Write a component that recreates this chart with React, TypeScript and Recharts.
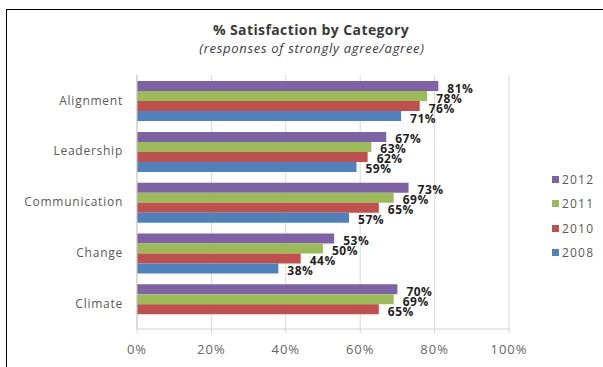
import { Bar, BarChart, CartesianGrid, LabelList, Legend, XAxis, YAxis } from "recharts";

const categories = ["Alignment", "Leadership", "Communication", "Change", "Climate"];
const years = ["2012", "2011", "2010", "2008"];
const values2012 = [81, 67, 73, 53, 70];
const values2011 = [78, 63, 69, 50, 69];
const values2010 = [76, 62, 65, 44, 65];
const values2008: (number | null)[] = [71, 59, 57, 38, null];
const xTicks = [0, 20, 40, 60, 80, 100];

const colors: Record<string, string> = {
  "2012": "#7f62a6",
  "2011": "#9bbb59",
  "2010": "#c0504d",
  "2008": "#4f81bd",
};

const data = categories.map((name, i) => ({
  name,
  "2012": values2012[i],
  "2011": values2011[i],
  "2010": values2010[i],
  "2008": values2008[i],
}));

const font = "'Open Sans', 'DejaVu Sans', sans-serif";

function LegendBox({ payload }: any) {
  const items = [...(payload ?? [])].sort(
    (a: any, b: any) => years.indexOf(String(a.value)) - years.indexOf(String(b.value))
  );
  return (
    <div style={{ fontFamily: font, fontSize: 12, letterSpacing: 1.2, color: "#595959" }}>
      {items.map((p: any) => (
        <div key={p.value} style={{ height: 24.5, display: "flex", alignItems: "center" }}>
          <span style={{ width: 7, height: 7, background: p.color, marginRight: 3, display: "inline-block" }} />
          {p.value}
        </div>
      ))}
    </div>
  );
}

function valueLabel(props: any) {
  const { x, y, width, height, value } = props;
  if (value == null) return null;
  return (
    <text
      x={Number(x) + Number(width) + 9}
      y={Number(y) + Number(height) / 2 + 2}
      dominantBaseline="central"
      fill="#1f1f1f"
      fontSize={12}
      fontWeight={700}
      fontFamily={font}
      letterSpacing={0.5}
    >
      {`${value}%`}
    </text>
  );
}

export default function App() {
  return (
    <div style={{ position: "absolute", left: 0, top: 0, width: 603, height: 367, background: "#fff", overflow: "hidden" }}>
      <div style={{ position: "absolute", left: 6, top: 9, width: 597, height: 1, background: "#000" }} />
      <div style={{ position: "absolute", left: 6, top: 9, width: 1, height: 358, background: "#000" }} />
      <div
        style={{
          position: "absolute",
          left: 0,
          width: 622,
          top: 20,
          textAlign: "center",
          fontFamily: font,
          fontWeight: 700,
          fontSize: 14,
          letterSpacing: 0.4,
          color: "#3a3a3a",
        }}
      >
        % Satisfaction by Category
      </div>
      <div
        style={{
          position: "absolute",
          left: 0,
          width: 624,
          top: 39,
          textAlign: "center",
          fontFamily: font,
          fontStyle: "italic",
          fontSize: 13,
          letterSpacing: 0.7,
          color: "#3a3a3a",
        }}
      >
        (responses of strongly agree/agree)
      </div>
      <div style={{ position: "absolute", left: 0, top: 0 }}>
        <BarChart
          width={603}
          height={367}
          data={data}
          layout="vertical"
          margin={{ top: 75, right: 94, bottom: 8, left: 0 }}
          barCategoryGap="12%"
          barGap={0}
        >
          <CartesianGrid horizontal={false} stroke="#d9d9d9" />
          <XAxis
            type="number"
            domain={[0, 100]}
            ticks={xTicks}
            tickFormatter={(v) => `${v}%`}
            tick={{ fill: "#666", fontSize: 13, fontFamily: font, letterSpacing: 1 }}
            axisLine={{ stroke: "#d0d0d0" }}
            tickLine={{ stroke: "#d0d0d0" }}
            tickSize={4}
            tickMargin={12}
            height={30}
          />
          <YAxis
            type="category"
            dataKey="name"
            width={137}
            tick={{ fill: "#595959", fontSize: 12, fontFamily: font, letterSpacing: 0.75 }}
            axisLine={{ stroke: "#c8c8c8" }}
            tickLine={false}
            tickMargin={8}
          />
          <Legend
            layout="vertical"
            align="center"
            verticalAlign="middle"
            content={<LegendBox />}
            wrapperStyle={{ left: 552, top: 167, width: 51 }}
          />
          {years.map((y) => (
            <Bar key={y} dataKey={y} fill={colors[y]} isAnimationActive={false}>
              <LabelList dataKey={y} content={valueLabel} />
            </Bar>
          ))}
        </BarChart>
      </div>
    </div>
  );
}
